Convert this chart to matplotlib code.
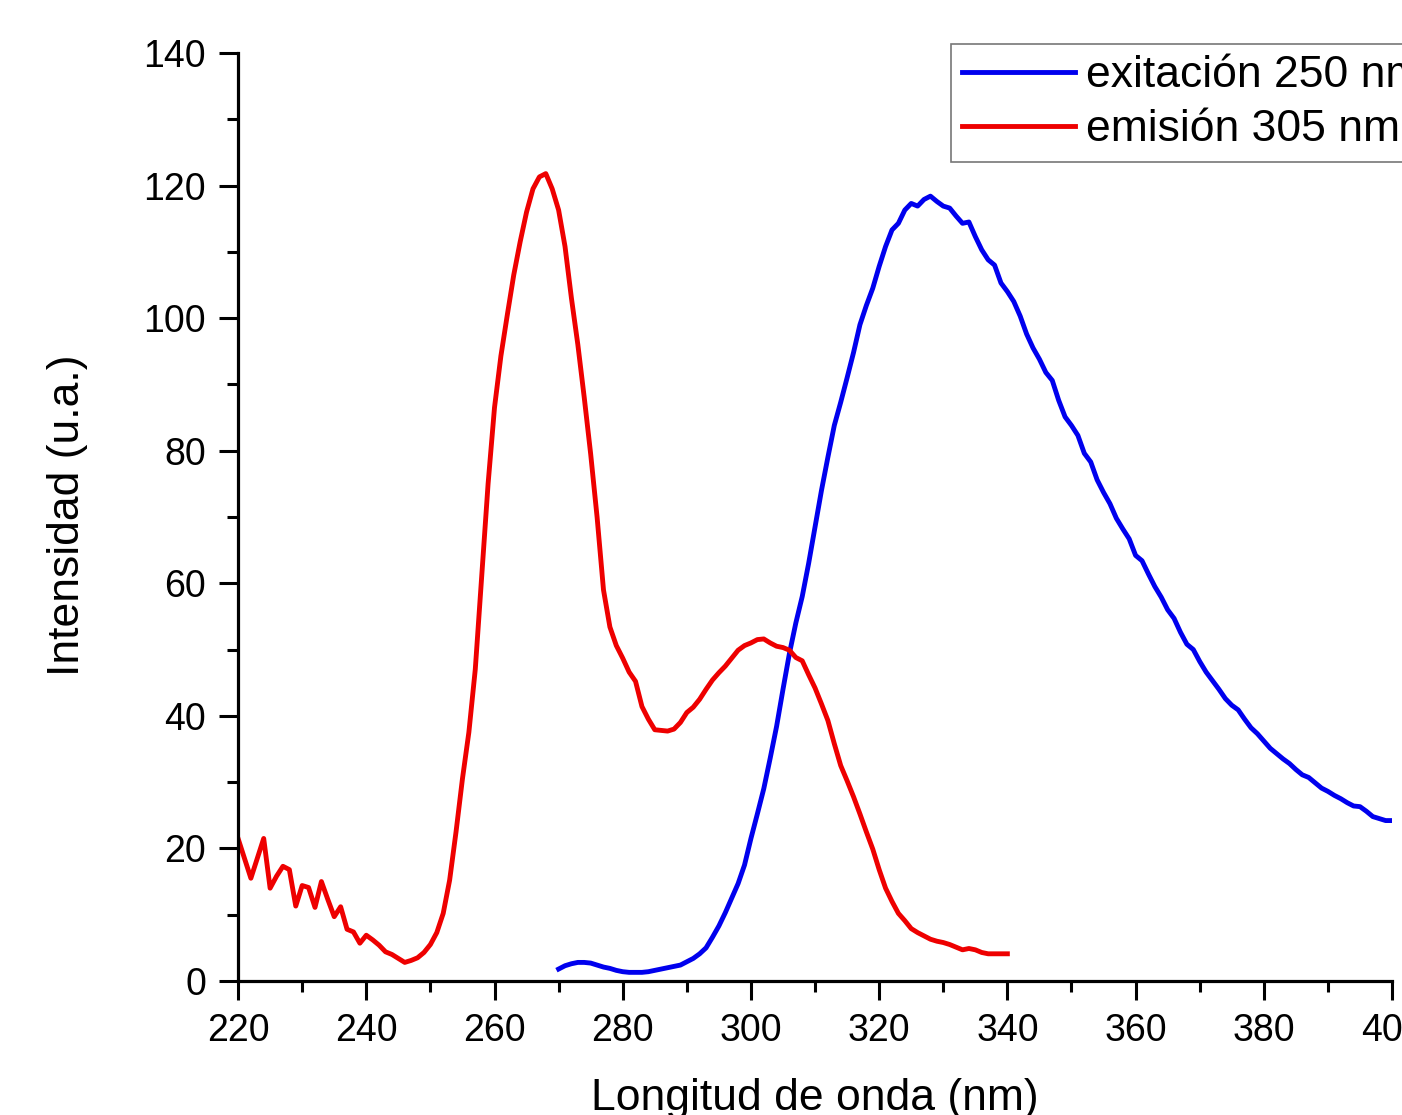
import matplotlib
matplotlib.use("Agg")
import matplotlib.pyplot as plt
from matplotlib.ticker import MultipleLocator

plt.rcParams['font.family'] = ['Liberation Sans', 'DejaVu Sans']

# longitud de onda (nm)
emision_x = list(range(220, 341))
emision_y = [
    21.5, 18.5, 15.5, 18.5, 21.5, 14.0, 15.8, 17.3, 16.8, 11.3,
    14.4, 14.1, 11.1, 15.0, 12.3, 9.7, 11.2, 7.8, 7.4, 5.7,
    6.9, 6.2, 5.4, 4.4, 4.0, 3.4, 2.8, 3.1, 3.5, 4.3,
    5.5, 7.3, 10.2, 15.2, 22.5, 30.5, 37.5, 47.0, 61.0, 75.0,
    86.5, 94.3, 100.5, 106.5, 111.5, 116.0, 119.5, 121.3, 121.8, 119.5,
    116.3, 110.8, 103.0, 96.0, 88.0, 79.5, 70.0, 59.0, 53.4, 50.6,
    48.7, 46.6, 45.2, 41.4, 39.5, 37.9, 37.8, 37.7, 38.0, 39.0,
    40.5, 41.3, 42.5, 44.0, 45.4, 46.5, 47.5, 48.7, 49.9, 50.6,
    51.0, 51.5, 51.6, 51.0, 50.5, 50.3, 49.9, 48.8, 48.3, 46.2,
    44.2, 41.8, 39.3, 35.8, 32.5, 30.2, 27.8, 25.2, 22.5, 19.9,
    16.8, 14.0, 12.0, 10.2, 9.1, 7.9, 7.3, 6.8, 6.3, 6.0,
    5.8, 5.5, 5.1, 4.7, 4.9, 4.7, 4.3, 4.1, 4.1, 4.1,
    4.1,
]

exitacion_x = list(range(270, 401))
exitacion_y = [
    1.8, 2.3, 2.6, 2.8, 2.8, 2.7, 2.4, 2.1, 1.9, 1.6,
    1.4, 1.3, 1.3, 1.3, 1.4, 1.6, 1.8, 2.0, 2.2, 2.4,
    2.9, 3.4, 4.1, 5.0, 6.6, 8.3, 10.3, 12.5, 14.7, 17.5,
    21.5, 25.2, 29.0, 33.6, 38.4, 44.0, 49.4, 54.0, 58.0, 63.0,
    68.5, 74.0, 79.0, 83.8, 87.3, 91.0, 94.8, 99.0, 101.9, 104.5,
    107.8, 110.8, 113.3, 114.3, 116.3, 117.3, 116.9, 117.9, 118.4, 117.6,
    116.9, 116.6, 115.4, 114.3, 114.5, 112.3, 110.3, 108.8, 108.0, 105.3,
    104.0, 102.5, 100.3, 97.6, 95.5, 93.8, 91.8, 90.6, 87.6, 85.1,
    83.8, 82.3, 79.6, 78.3, 75.6, 73.7, 72.0, 69.8, 68.2, 66.7,
    64.2, 63.4, 61.4, 59.5, 57.9, 56.0, 54.7, 52.6, 50.8, 50.0,
    48.2, 46.6, 45.3, 44.0, 42.6, 41.6, 40.9, 39.5, 38.2, 37.3,
    36.2, 35.1, 34.3, 33.5, 32.8, 31.9, 31.1, 30.7, 29.9, 29.1,
    28.6, 28.0, 27.5, 26.9, 26.4, 26.3, 25.6, 24.8, 24.5, 24.2,
    24.2,
]

fig = plt.figure(figsize=(14.02, 11.15), dpi=100)
ax = fig.add_axes([0.1698, 0.1202, 0.8231, 0.8323])

ax.plot(exitacion_x, exitacion_y, color="#0000ee", lw=3.5, label="exitación 250 nm")
ax.plot(emision_x, emision_y, color="#ee0000", lw=3.5, label="emisión 305 nm")

ax.set_xlim(220, 400)
ax.set_ylim(0, 140)
ax.xaxis.set_major_locator(MultipleLocator(20))
ax.xaxis.set_minor_locator(MultipleLocator(10))
ax.yaxis.set_major_locator(MultipleLocator(20))
ax.yaxis.set_minor_locator(MultipleLocator(10))

for s in ["top", "right"]:
    ax.spines[s].set_visible(False)
for s in ["left", "bottom"]:
    ax.spines[s].set_linewidth(2.3)

ax.tick_params(which="major", direction="out", length=14, width=2.2, labelsize=27, pad=9)
ax.tick_params(which="minor", direction="out", length=8, width=2.2)

ax.set_xlabel("Longitud de onda (nm)", fontsize=32)
ax.set_ylabel("Intensidad (u.a.)", fontsize=32)
ax.xaxis.set_label_coords(0.5, -0.105)
ax.yaxis.set_label_coords(-0.13, 0.502)

leg = ax.legend(loc="upper left", bbox_to_anchor=(0.678, 0.9605),
                bbox_transform=fig.transFigure, fontsize=32, frameon=True,
                fancybox=False, borderpad=0.25, labelspacing=0.3,
                handlelength=2.55, handletextpad=0.25, borderaxespad=0)
leg.get_frame().set_edgecolor("#555555")
leg.get_frame().set_linewidth(1.2)

plt.savefig("out.png", dpi=100)
